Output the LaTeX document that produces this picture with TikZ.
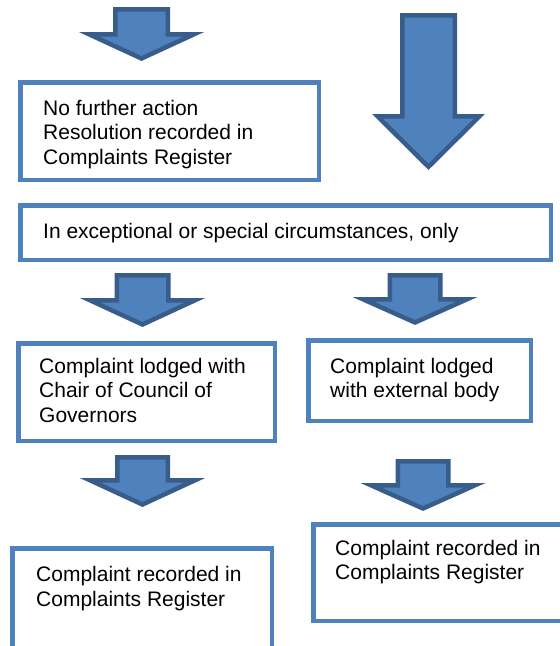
\documentclass[tikz,border=0pt]{standalone}
\usepackage{fontspec}
\setmainfont{Liberation Sans}
\usetikzlibrary{positioning}
\definecolor{boxblue}{HTML}{4F81BD}
\definecolor{arrowedge}{HTML}{385D8A}

\begin{document}
\begin{tikzpicture}[x=1pt, y=-1pt,
    framebox/.style={draw=boxblue, line width=4.5pt, fill=white, inner sep=0pt, anchor=north west},
    boxtext/.style={inner sep=0pt, align=left, font=\fontsize{21}{24.5}\selectfont},
    blockarrow/.style={draw=arrowedge, fill=boxblue, line width=4.5pt, line join=miter}]

    \clip (0,0) rectangle (560,646);
    \fill[white] (0,0) rectangle (560,646);

    % block arrows: centre / shaft half width / head half width / top / head line / tip
    \foreach \cx/\sw/\hw/\ya/\yb/\yc in {141.5/26.25/52.5/9.25/34.25/58.5,
                                         428.5/26.25/51/15.25/116.25/166.8,
                                         142.5/25.75/52.5/275.25/300.25/324.5,
                                         415/25.25/52/275.25/299.25/322.5,
                                         142.5/25.25/52.5/457.25/480.25/504.5,
                                         423/25.25/52/461.25/485.25/508.5}
        \draw[blockarrow] (\cx-\sw,\ya) -- (\cx+\sw,\ya) -- (\cx+\sw,\yb) -- (\cx+\hw,\yb)
            -- (\cx,\yc) -- (\cx-\hw,\yb) -- (\cx-\sw,\yb) -- cycle;

    % boxes
    \node[framebox, minimum width=298.5pt, minimum height=97.5pt] (nofurther) at (18,80) {};
    \node[boxtext, below right=20pt and 25pt of nofurther.north west]
        {No further action\\Resolution recorded in\\Complaints Register};

    \node[framebox, minimum width=530.5pt, minimum height=54.5pt] (special) at (18,203) {};
    \node[boxtext, below right=20pt and 25pt of special.north west]
        {In exceptional or special circumstances, only};

    \node[framebox, minimum width=256.5pt, minimum height=97.5pt] (chair) at (16,341) {};
    \node[boxtext, below right=17pt and 23pt of chair.north west]
        {Complaint lodged with\\Chair of Council of\\Governors};

    \node[framebox, minimum width=222.5pt, minimum height=80.5pt] (external) at (306,338) {};
    \node[boxtext, below right=20pt and 24pt of external.north west]
        {Complaint lodged\\with external body};

    \node[framebox, minimum width=259.5pt, minimum height=120pt] (regleft) at (10,546) {};
    \node[boxtext, below right=20.5pt and 26pt of regleft.north west]
        {Complaint recorded in\\Complaints Register};

    \node[framebox, minimum width=300pt, minimum height=96.5pt] (regright) at (311,522) {};
    \node[boxtext, below right=18pt and 24pt of regright.north west]
        {Complaint recorded in\\Complaints Register};
\end{tikzpicture}
\end{document}
